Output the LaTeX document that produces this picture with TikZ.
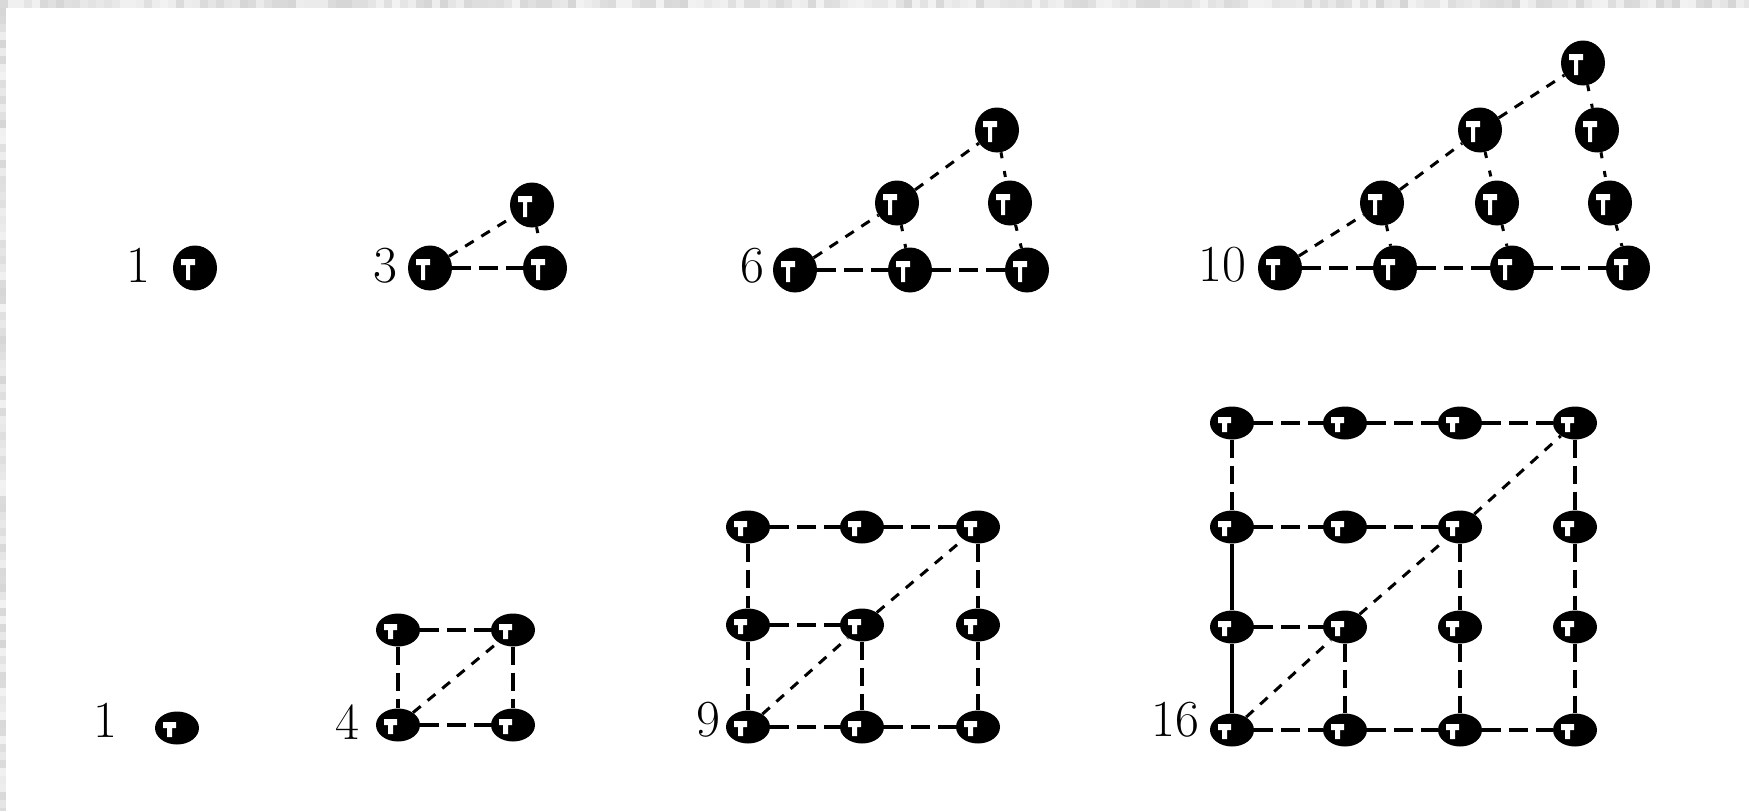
\documentclass[tikz,border=0pt]{standalone}
\usetikzlibrary{shapes.geometric}
\begin{document}
\begin{tikzpicture}[x=1pt,y=-1pt,
  tdot/.style={ellipse, fill=black, minimum width=44pt, minimum height=45pt, inner sep=0pt,
    path picture={\fill[white,shift={(path picture bounding box.center)}]
      (-14pt,9pt) rectangle (0pt,3pt) (-9pt,3pt) rectangle (-5pt,-12pt);}},
  sdot/.style={ellipse, fill=black, minimum width=44pt, minimum height=33pt, inner sep=0pt,
    path picture={\fill[white,shift={(path picture bounding box.center)}]
      (-14pt,6pt) rectangle (-1pt,0pt) (-10pt,0pt) rectangle (-5pt,-9pt);}},
  lab/.style={font=\fontsize{52}{52}\selectfont, inner sep=0pt},
  hd/.style={line width=4pt, dash pattern=on 19pt off 8pt},
  dg/.style={line width=3pt, dash pattern=on 10pt off 9pt},
  vs/.style={line width=3pt, dash pattern=on 6pt off 13pt},
  sv/.style={line width=4pt, dash pattern=on 18pt off 8pt},
  sl/.style={line width=4pt}
]
\useasboundingbox (0,0) rectangle (1749,811);
% background with textured border
\fill[black!12] (0,0) rectangle (1749,811);
\fill[white] (6,8) rectangle (1749,811);
\pgfmathsetseed{7}
\foreach \i in {0,8,...,1744}{
  \pgfmathsetmacro{\g}{int(5+12*rnd)}
  \fill[black!\g] (\i,0) rectangle ++(8,8);
}
\foreach \j in {8,16,...,808}{
  \pgfmathsetmacro{\g}{int(5+12*rnd)}
  \fill[black!\g] (0,\j) rectangle ++(6,8);
}

% ---------- top row: triangular numbers ----------
\node[lab] (l1) at (138,265) {1};
\node[tdot] (a1) at (195,268) {};

\node[lab] (l3) at (385,266) {3};
\node[tdot] (b1) at (430,268) {};
\node[tdot] (b2) at (545,268) {};
\node[tdot] (b3) at (532,205) {};
\draw[hd] (b1) -- (b2);
\draw[dg] (b1) -- (b3);
\draw[vs] (b3) -- (b2);

\node[lab] (l6) at (752,266) {6};
\node[tdot] (c1) at (795,270) {};
\node[tdot] (c2) at (910,270) {};
\node[tdot] (c3) at (1027,270) {};
\node[tdot] (c4) at (897,203) {};
\node[tdot] (c5) at (1010,203) {};
\node[tdot] (c6) at (997,130) {};
\draw[hd] (c1) -- (c2);
\draw[hd] (c2) -- (c3);
\draw[dg] (c1) -- (c4);
\draw[dg] (c4) -- (c6);
\draw[vs] (c4) -- (c2);
\draw[vs] (c5) -- (c3);
\draw[vs] (c6) -- (c5);

\node[lab] (l10) at (1222,265) {10};
\node[tdot] (d1) at (1280,268) {};
\node[tdot] (d2) at (1395,268) {};
\node[tdot] (d3) at (1512,268) {};
\node[tdot] (d4) at (1628,268) {};
\node[tdot] (d5) at (1382,203) {};
\node[tdot] (d6) at (1497,203) {};
\node[tdot] (d7) at (1610,203) {};
\node[tdot] (d8) at (1480,130) {};
\node[tdot] (d9) at (1597,130) {};
\node[tdot] (d10) at (1583,63) {};
\draw[hd] (d1) -- (d2);
\draw[hd] (d2) -- (d3);
\draw[hd] (d3) -- (d4);
\draw[dg] (d1) -- (d5);
\draw[dg] (d5) -- (d8);
\draw[dg] (d8) -- (d10);
\draw[vs] (d5) -- (d2);
\draw[vs] (d6) -- (d3);
\draw[vs] (d7) -- (d4);
\draw[vs] (d8) -- (d6);
\draw[vs] (d9) -- (d7);
\draw[vs] (d10) -- (d9);

% ---------- bottom row: square numbers ----------
\node[lab] (m1) at (105,720) {1};
\node[sdot] (e1) at (177,728) {};

\node[lab] (m4) at (347,722) {4};
\node[sdot] (f1) at (398,725) {};
\node[sdot] (f2) at (513,725) {};
\node[sdot] (f3) at (398,630) {};
\node[sdot] (f4) at (513,630) {};
\draw[hd] (f1) -- (f2);
\draw[hd] (f3) -- (f4);
\draw[sv] (f3) -- (f1);
\draw[sv] (f4) -- (f2);
\draw[dg] (f1) -- (f4);

\node[lab] (m9) at (708,720) {9};
\node[sdot] (g11) at (748,727) {};
\node[sdot] (g12) at (862,727) {};
\node[sdot] (g13) at (978,727) {};
\node[sdot] (g21) at (748,625) {};
\node[sdot] (g22) at (862,625) {};
\node[sdot] (g23) at (978,625) {};
\node[sdot] (g31) at (748,527) {};
\node[sdot] (g32) at (862,527) {};
\node[sdot] (g33) at (978,527) {};
\draw[hd] (g11) -- (g12);
\draw[hd] (g12) -- (g13);
\draw[hd] (g21) -- (g22);
\draw[hd] (g31) -- (g32);
\draw[hd] (g32) -- (g33);
\draw[sv] (g31) -- (g21);
\draw[sv] (g21) -- (g11);
\draw[sv] (g22) -- (g12);
\draw[sv] (g33) -- (g23);
\draw[sv] (g23) -- (g13);
\draw[dg] (g11) -- (g22);
\draw[dg] (g22) -- (g33);

\node[lab] (m16) at (1175,720) {16};
\node[sdot] (h11) at (1232,730) {};
\node[sdot] (h12) at (1345,730) {};
\node[sdot] (h13) at (1460,730) {};
\node[sdot] (h14) at (1575,730) {};
\node[sdot] (h21) at (1232,627) {};
\node[sdot] (h22) at (1345,627) {};
\node[sdot] (h23) at (1460,627) {};
\node[sdot] (h24) at (1575,627) {};
\node[sdot] (h31) at (1232,527) {};
\node[sdot] (h32) at (1345,527) {};
\node[sdot] (h33) at (1460,527) {};
\node[sdot] (h34) at (1575,527) {};
\node[sdot] (h41) at (1232,423) {};
\node[sdot] (h42) at (1345,423) {};
\node[sdot] (h43) at (1460,423) {};
\node[sdot] (h44) at (1575,423) {};
\draw[hd] (h11) -- (h12);
\draw[hd] (h12) -- (h13);
\draw[hd] (h13) -- (h14);
\draw[hd] (h21) -- (h22);
\draw[hd] (h31) -- (h32);
\draw[hd] (h32) -- (h33);
\draw[hd] (h41) -- (h42);
\draw[hd] (h42) -- (h43);
\draw[hd] (h43) -- (h44);
\draw[sv] (h41) -- (h31);
\draw[sl] (h31) -- (h21);
\draw[sl] (h21) -- (h11);
\draw[sv] (h22) -- (h12);
\draw[sv] (h33) -- (h23);
\draw[sv] (h23) -- (h13);
\draw[sv] (h44) -- (h34);
\draw[sv] (h34) -- (h24);
\draw[sv] (h24) -- (h14);
\draw[dg] (h11) -- (h22);
\draw[dg] (h22) -- (h33);
\draw[dg] (h33) -- (h44);
\end{tikzpicture}
\end{document}
